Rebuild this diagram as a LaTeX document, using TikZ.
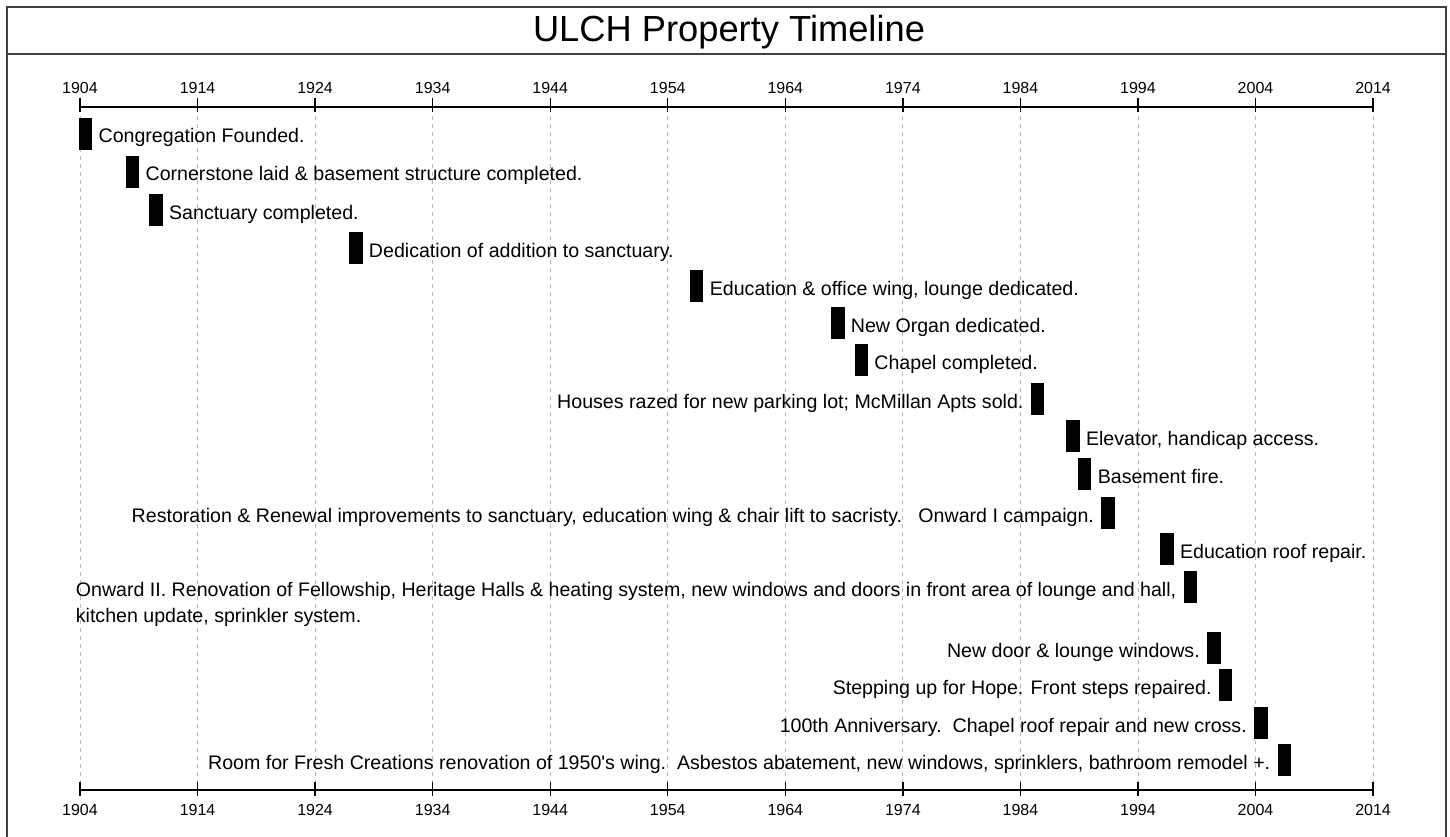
\documentclass[tikz,border=0pt]{standalone}
\usepackage{fontspec}
\setmainfont{Liberation Sans}
\usetikzlibrary{positioning}

% year -> x in pixels
\newcommand{\yrx}[1]{80+11.755*(#1-1904)}

\begin{document}
\begin{tikzpicture}[x=1pt,y=-1pt]
    \tikzstyle{evbar} = [rectangle, fill=black, inner sep=0pt,
    minimum width=13.5pt, minimum height=31.5pt, anchor=north west];
    \tikzstyle{rl} = [inner sep=0pt, anchor=base west,
    font=\fontsize{19.6}{26}\selectfont];
    \tikzstyle{ll} = [inner sep=0pt, anchor=base east,
    font=\fontsize{19.6}{26}\selectfont];
    \tikzstyle{yr} = [inner sep=0pt, font=\fontsize{16}{18}\selectfont];
    \tikzstyle{gl} = [gray!55, line width=0.8pt, dash pattern=on 4pt off 4pt];
    \tikzstyle{ax} = [black, line width=1.4pt];

    \useasboundingbox (0,0) rectangle (1450,837);

    % frame and title
    \draw[line width=1.6pt, black!75] (7,7) rectangle (1446,850);
    \draw[line width=1.6pt, black!75] (7,54) -- (1446,54);
    \node[inner sep=0pt, anchor=base, font=\fontsize{36.3}{40}\selectfont]
      (title) at (729,42) {ULCH Property Timeline};

    % axes
    \coordinate (t0) at ({\yrx{1904}},107);
    \coordinate (t1) at ({\yrx{2014}},107);
    \coordinate (u0) at ({\yrx{1904}},790);
    \coordinate (u1) at ({\yrx{2014}},790);
    \foreach \y in {1904,1914,...,2014}{
      \draw[gl] ({\yrx{\y}},108) -- ({\yrx{\y}},789);
      \draw[ax] ({\yrx{\y}},98) -- ({\yrx{\y}},112);
      \draw[ax] ({\yrx{\y}},782) -- ({\yrx{\y}},796);
      \node[yr, anchor=base] (ya\y) at ({\yrx{\y}},94) {\y};
      \node[yr, anchor=base] (yb\y) at ({\yrx{\y}},815) {\y};
    }
    \draw[ax] (t0) -- (t1);
    \draw[ax] (u0) -- (u1);

    % events
    \node[evbar] (b1) at ({\yrx{1904}-1.5},118){};
    \node[evbar] (b2) at ({\yrx{1908}-1.5},156){};
    \node[evbar] (b3) at ({\yrx{1910}-1.5},194){};
    \node[evbar] (b4) at ({\yrx{1927}-1.5},232){};
    \node[evbar] (b5) at ({\yrx{1956}-1.5},270){};
    \node[evbar] (b6) at ({\yrx{1968}-1.5},307){};
    \node[evbar] (b7) at ({\yrx{1970}-1.5},344){};
    \node[evbar] (b8) at ({\yrx{1985}-1.5},383){};
    \node[evbar] (b9) at ({\yrx{1988}-1.5},420){};
    \node[evbar] (b10) at ({\yrx{1989}-1.5},458){};
    \node[evbar] (b11) at ({\yrx{1991}-1.5},497){};
    \node[evbar] (b12) at ({\yrx{1996}-1.5},533){};
    \node[evbar] (b13) at ({\yrx{1998}-1.5},571){};
    \node[evbar] (b14) at ({\yrx{2000}-1.5},632){};
    \node[evbar] (b15) at ({\yrx{2001}-1.5},669){};
    \node[evbar] (b16) at ({\yrx{2004}-1.5},707){};
    \node[evbar] (b17) at ({\yrx{2006}-1.5},744){};

    \node[rl] (l1) at ([shift={(6,25)}]b1.north east) {Congregation Founded.};
    \node[rl] (l2) at ([shift={(6,25)}]b2.north east)
      {Cornerstone laid \& basement structure completed.};
    \node[rl] (l3) at ([shift={(6,25)}]b3.north east) {Sanctuary completed.};
    \node[rl] (l4) at ([shift={(6,25)}]b4.north east)
      {Dedication of addition to sanctuary.};
    \node[rl] (l5) at ([shift={(6,25)}]b5.north east)
      {Education \& office wing, lounge dedicated.};
    \node[rl] (l6) at ([shift={(6,25)}]b6.north east) {New Organ dedicated.};
    \node[rl] (l7) at ([shift={(6,25)}]b7.north east) {Chapel completed.};
    \node[ll] (l8) at ([shift={(-7,25)}]b8.north west)
      {Houses razed for new parking lot; McMillan Apts sold.};
    \node[rl] (l9) at ([shift={(6,25)}]b9.north east) {Elevator, handicap access.};
    \node[rl] (l10) at ([shift={(6,25)}]b10.north east) {Basement fire.};
    \node[ll] (l11) at ([shift={(-7,25)}]b11.north west)
      {Restoration \& Renewal improvements to sanctuary, education wing \& chair lift to sacristy.\ \ \ Onward I campaign.};
    \node[rl] (l12) at ([shift={(6,25)}]b12.north east) {Education roof repair.};
    \node[ll] (l13) at ([shift={(-7,25)}]b13.north west)
      {\begin{tabular}[t]{@{}l@{}}Onward II. Renovation of Fellowship, Heritage Halls \& heating system, new windows and doors in front area of lounge and hall,\\
       kitchen update, sprinkler system.\end{tabular}};
    \node[ll] (l14) at ([shift={(-7,25)}]b14.north west) {New door \& lounge windows.};
    \node[ll] (l15) at ([shift={(-7,25)}]b15.north west)
      {Stepping up for Hope. Front steps repaired.};
    \node[ll] (l16) at ([shift={(-7,25)}]b16.north west)
      {100th Anniversary.\ \ Chapel roof repair and new cross.};
    \node[ll] (l17) at ([shift={(-7,25)}]b17.north west)
      {Room for Fresh Creations renovation of 1950\textquotesingle s wing.\ \ Asbestos abatement, new windows, sprinklers, bathroom remodel +.};

\end{tikzpicture}
\end{document}
